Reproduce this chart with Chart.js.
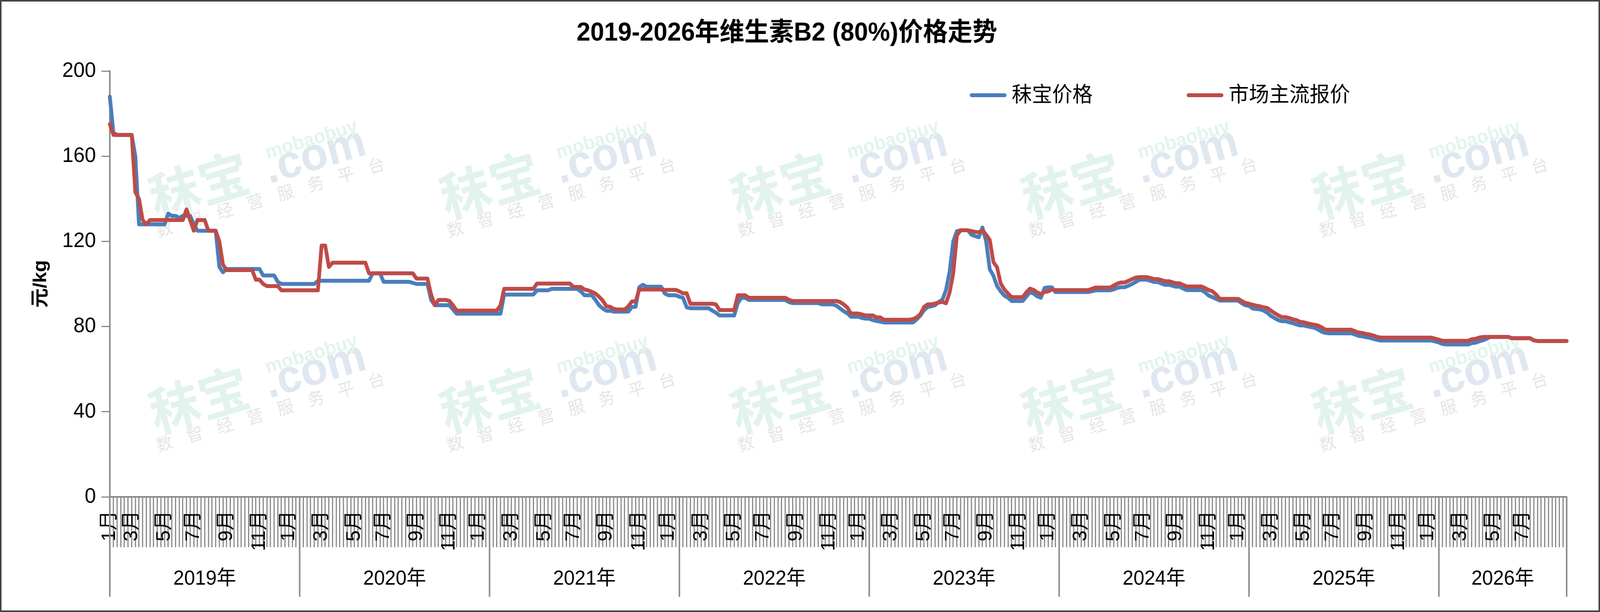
<!DOCTYPE html>
<html>
<head>
<meta charset="utf-8">
<title>2019-2026年维生素B2 (80%)价格走势</title>
<script src="https://cdn.jsdelivr.net/npm/chart.js@4.4.1/dist/chart.umd.min.js"></script>
<style>
  html, body { margin: 0; padding: 0; background: #fff; overflow: hidden; }
</style>
</head>
<body>
<canvas id="priceChart" width="4270" height="1568" style="display:block;width:100vw;height:100vh"></canvas>
<script>
// weekly prices, one line per year (2026 is partial)
var mobaoPrice = [
  188,171,170,170,170,170,170,160,128,128,128,128,128,128,128,128,133,132,132,131,132,132,132,128,125,125,125,125,125,125,108,105.5,107,107,107,107,107,107,107,107,107,107,104,104,104,104,101,100,100,100,100,100,
  100,100,100,100,100,101.5,101.5,101.5,101.5,101.5,101.5,101.5,101.5,101.5,101.5,101.5,101.5,101.5,101.5,101.5,105,105,105,101,101,101,101,101,101,101,101,100.5,100,100,100,100,92.5,90,90,90,90,90,88,86,86,86,86,86,86,86,86,86,
  86,86,86,86,95,95,95,95,95,95,95,95,95,97,97,97,97,97.7,97.7,97.7,97.7,97.7,97.7,97.7,97.7,96.5,94.7,94.7,94.7,92.5,90,88.5,87.4,87.4,87,87,87,87,87,89.2,89.3,98.5,99.6,98.7,98.7,98.7,98.7,98.7,95.5,94.7,94.7,94.7,
  94,93.5,89,88.6,88.6,88.6,88.6,88.6,88.6,87.5,86.5,85.2,85.2,85.2,85.2,85.2,91,93.5,93.5,92.5,92.5,92.5,92.5,92.5,92.5,92.5,92.5,92.5,92.5,92.5,91.5,91,91,91,91,91,91,91,91,90.4,90.4,90.4,90.4,89.8,88.5,87.2,86.2,84.6,84.6,84.6,84,83.7,
  83.7,83,82.6,82.3,81.9,81.9,81.9,81.9,81.9,81.9,81.9,81.9,81.9,83.4,85.2,87.7,89.2,89.5,90,91.5,92.5,97.1,105.7,120,124.8,125.2,125.2,125.2,123.1,122.5,121.9,126.5,120,106.9,103.9,99,96.5,94.5,93.5,92,92,92,92,94,96.2,95.5,94.2,93.5,98.1,98.4,98.4,96.2,
  96.2,96.2,96.2,96.2,96.2,96.2,96.2,96.2,96.2,96.6,97,97,97,97,97,97.5,98.2,98.5,98.5,99.2,100,101,102,102,102,101.5,100.9,100.9,100.2,99.6,99.6,99.2,98.7,98.7,97.8,97.1,97.1,97.1,97.1,97.1,96,94.5,93.8,93,92.2,92.2,92.2,92.2,92.2,92.2,91,90,
  89.7,88.5,88.2,88.1,87.5,86.5,85,84,83,82.5,82.5,82,81.6,81,80.5,80.5,80.1,79.7,79.4,78.5,77.5,77,76.8,76.8,76.8,76.8,76.8,76.8,76.8,76.3,75.6,75.4,75,74.8,74.2,73.8,73.4,73.4,73.4,73.4,73.4,73.4,73.4,73.4,73.4,73.4,73.4,73.4,73.4,73.4,73.4,73,
  72.5,71.8,71.6,71.6,71.6,71.6,71.6,71.6,71.6,72.2,72.4,73,73.5,74.2,75.1,75.1,75.1,75.1,75.1,75.1,74.5,74.5,74.5,74.5,74.5,74.5,73.5,73.2,73.2,73.2,73.2,73.2,73.2,73.2,73.2,73.2
];

var marketPrice = [
  175,170,170,170,170,170,170,143,140,130,128,130,130,130,130,130,130,130,130,130,130,135,130,125,130,130,130,125,125,125,120,109,106.5,106.5,106.5,106.5,106.5,106.5,106.5,106.5,102,102,100,99,99,99,99,97,97,97,97,97,
  97,97,97,97,97,97,118,118,108,110,110,110,110,110,110,110,110,110,110,105,105,105,105,105,105,105,105,105,105,105,105,105,102.5,102.5,102.5,102.5,95,90,92.5,92.5,92.5,92,90,87.5,87.5,87.5,87.5,87.5,87.5,87.5,87.5,87.5,
  87.5,87.5,87.5,90,97.7,97.7,97.7,97.7,97.7,97.7,97.7,97.7,97.7,100.2,100.2,100.2,100.2,100.2,100.2,100.2,100.2,100.2,100.2,98.6,98.6,98.6,97.4,97,96.3,95.5,94,92.2,89.5,89.3,88.3,88,88,88,89.5,91.8,91.8,97.4,97.4,97.4,97.4,97.4,97.4,97.4,97.2,97.2,97.2,97.2,
  96.5,95.6,95.6,90.7,90.7,90.7,90.7,90.7,90.7,90.7,90.4,87.7,87.7,87.7,87.7,87.7,94.7,94.7,94.7,93.5,93.5,93.5,93.5,93.5,93.5,93.5,93.5,93.5,93.5,93.5,92.5,92,92,92,92,92,92,92,92,92,92,92,92,92,91.5,90.4,88.9,86.1,86.1,86.1,85.7,85.2,
  85.2,85.2,84.3,84.3,83.2,83.2,83.2,83.2,83.2,83.2,83.2,83.2,83.5,84.3,85.8,89.2,90.4,90.4,90.8,91.3,91.6,90.9,95.9,105,122.8,125.2,125.2,125.2,124.8,124.5,124.3,125.2,123.1,120.7,110.3,107.8,100.2,97.4,95.5,93.8,93.8,93.8,93.8,96,97.8,97.2,96,95.3,96.2,96.5,97.4,97.1,
  97.1,97.1,97.1,97.1,97.1,97.1,97.1,97.1,97.1,97.7,98.3,98.3,98.3,98.3,98.3,99.3,100.2,100.7,100.7,101.5,102.3,103,103.2,103.2,103.2,102.8,102.3,102.3,101.8,101.3,101.3,100.8,100.3,100.3,99.5,98.8,98.8,98.8,98.8,98.8,98,97.1,96.5,95,93,93,93,93,93,93,92,91.1,
  90.7,90.2,89.8,89.5,89,88.7,87.5,86.3,85.3,84.4,84.4,84,83.4,83,82.2,82,81.5,81.1,80.8,80.4,79.5,78.5,78.5,78.5,78.5,78.5,78.5,78.5,78.5,77.8,77.2,77,76.5,76.3,75.8,75.2,74.8,74.8,74.8,74.8,74.8,74.8,74.8,74.8,74.8,74.8,74.8,74.8,74.8,74.8,74.8,74.3,
  73.8,73.3,73.3,73.3,73.3,73.3,73.3,73.3,73.3,74,74.2,74.8,75.1,75.1,75.1,75.1,75.1,75.1,75.1,75.1,74.5,74.5,74.5,74.5,74.5,74.5,73.5,73.2,73.2,73.2,73.2,73.2,73.2,73.2,73.2,73.2
];

var years = ['2019年', '2020年', '2021年', '2022年', '2023年', '2024年', '2025年', '2026年'];
var yearStart = [0, 52, 104, 156, 208, 260, 312, 364];
var monthNames = ['1月', '3月', '5月', '7月', '9月', '11月'];
var monthOffset = [-3, 6, 15, 23, 32, 41];   // weeks from year start where the label sits

var seriesNames = ['秣宝价格', '市场主流报价'];
var seriesColors = ['#4A7EBB', '#BE4B48'];

var FONT = '"Liberation Sans", "Noto Sans CJK SC", sans-serif';
var CJK = '"Noto Sans CJK SC", "Liberation Sans", sans-serif';

// one label slot per week, only odd months get text
var weekLabels = mobaoPrice.map(function () { return ''; });
yearStart.forEach(function (s) {
  monthNames.forEach(function (m, j) {
    var i = Math.max(0, s + monthOffset[j]);
    if (i < weekLabels.length - 4) weekLabels[i] = m;
  });
});

function drawMark(ctx, ax, ay) {
  ctx.save();
  ctx.translate(ax, ay);
  ctx.rotate(-16 * Math.PI / 180);
  ctx.textAlign = 'center';
  ctx.textBaseline = 'middle';
  ctx.fillStyle = '#e2f3ed';
  ctx.font = 'bold 135px ' + CJK;
  ctx.fillText('秣宝', -159, -21);
  ctx.textBaseline = 'alphabetic';
  ctx.fillStyle = '#dfe7f0';
  ctx.font = 'bold 118px ' + FONT;
  ctx.fillText('.com', 159, 28);
  ctx.fillStyle = '#e3f4ee';
  ctx.font = 'bold 50px ' + FONT;
  ctx.fillText('mobaobuy', 161, -35);
  ctx.textBaseline = 'middle';
  ctx.fillStyle = '#e5e5e5';
  ctx.font = '44px ' + CJK;
  var sub = '数智经营服务平台';
  for (var k = 0; k < sub.length; k++) {
    ctx.fillText(sub[k], 15 + (k - 3.5) * 84, 61);
  }
  ctx.restore();
}

var decor = {
  id: 'decor',
  beforeDraw: function (chart) {
    var ctx = chart.ctx;
    ctx.save();
    ctx.fillStyle = '#fff';
    ctx.fillRect(0, 0, chart.width, chart.height);
    ctx.restore();
  },
  beforeDatasetsDraw: function (chart) {
    var ctx = chart.ctx;
    for (var r = 0; r < 2; r++) {
      for (var c = 0; c < 5; c++) {
        drawMark(ctx, 690 + c * 776, 450 + r * 550);
      }
    }
  },
  afterDraw: function (chart) {
    var ctx = chart.ctx;
    var x = chart.scales.x;
    var top = x.top;
    ctx.save();

    // year row under the month ticks
    var edges = yearStart.map(function (s) { return x.getPixelForValue(s); });
    edges.push(x.right);
    ctx.strokeStyle = '#888';
    ctx.lineWidth = 4;
    edges.forEach(function (px) {
      ctx.beginPath();
      ctx.moveTo(px, top);
      ctx.lineTo(px, top + 256);
      ctx.stroke();
    });
    ctx.fillStyle = '#000';
    ctx.font = '52px ' + FONT;
    ctx.textAlign = 'center';
    ctx.textBaseline = 'middle';
    years.forEach(function (y, k) {
      ctx.fillText(y, (edges[k] + edges[k + 1]) / 2, top + 211);
    });

    // title
    ctx.font = 'bold 66px ' + FONT;
    ctx.fillText('2019-2026年维生素B2 (80%)价格走势', 2100, 86);

    // legend
    var legendX = [2588, 3167];
    ctx.textAlign = 'left';
    ctx.font = '54px ' + FONT;
    ctx.lineCap = 'round';
    seriesNames.forEach(function (name, k) {
      ctx.strokeStyle = seriesColors[k];
      ctx.lineWidth = 10;
      ctx.beginPath();
      ctx.moveTo(legendX[k] + 5, 244);
      ctx.lineTo(legendX[k] + 93, 244);
      ctx.stroke();
      ctx.fillText(name, legendX[k] + 112, 246);
    });

    // outer frame
    ctx.strokeStyle = '#444';
    ctx.lineWidth = 4;
    ctx.strokeRect(2, 2, chart.width - 4, chart.height - 4);
    ctx.restore();
  }
};

Chart.defaults.font.family = FONT;
Chart.defaults.color = '#000';

new Chart(document.getElementById('priceChart').getContext('2d'), {
  type: 'line',
  data: {
    labels: weekLabels,
    datasets: [
      {
        label: seriesNames[0],
        data: mobaoPrice,
        borderColor: seriesColors[0],
        backgroundColor: seriesColors[0],
        borderWidth: 10,
        order: 1
      },
      {
        label: seriesNames[1],
        data: marketPrice,
        borderColor: seriesColors[1],
        backgroundColor: seriesColors[1],
        borderWidth: 10,
        order: 0
      }
    ]
  },
  options: {
    responsive: false,
    devicePixelRatio: 1,
    animation: false,
    events: [],
    layout: { padding: { top: 182, right: 89, bottom: 0, left: 0 } },
    elements: {
      point: { radius: 0 },
      line: { tension: 0, borderJoinStyle: 'round', borderCapStyle: 'round', fill: false }
    },
    plugins: {
      legend: { display: false },
      title: { display: false },
      tooltip: { enabled: false }
    },
    scales: {
      x: {
        type: 'category',
        offset: false,
        grid: {
          drawOnChartArea: false,
          drawTicks: true,
          tickLength: 129,
          tickWidth: 3,
          tickColor: '#858585'
        },
        border: { color: '#888', width: 4 },
        ticks: {
          autoSkip: false,
          minRotation: 90,
          maxRotation: 90,
          padding: -94,
          font: { size: 51 },
          color: '#000'
        },
        afterFit: function (scale) { scale.height = 295; }
      },
      y: {
        min: 0,
        max: 200,
        grid: {
          drawOnChartArea: false,
          tickLength: 22,
          tickWidth: 3,
          tickColor: '#888'
        },
        border: { color: '#888', width: 4 },
        ticks: { stepSize: 40, padding: 15, font: { size: 54 }, color: '#000' },
        title: {
          display: true,
          text: '元/kg',
          font: { size: 50, weight: 'bold' },
          color: '#000',
          padding: { top: 79, bottom: 0 }
        },
        afterFit: function (scale) { scale.width = 293; }
      }
    }
  },
  plugins: [decor]
});
</script>
</body>
</html>
